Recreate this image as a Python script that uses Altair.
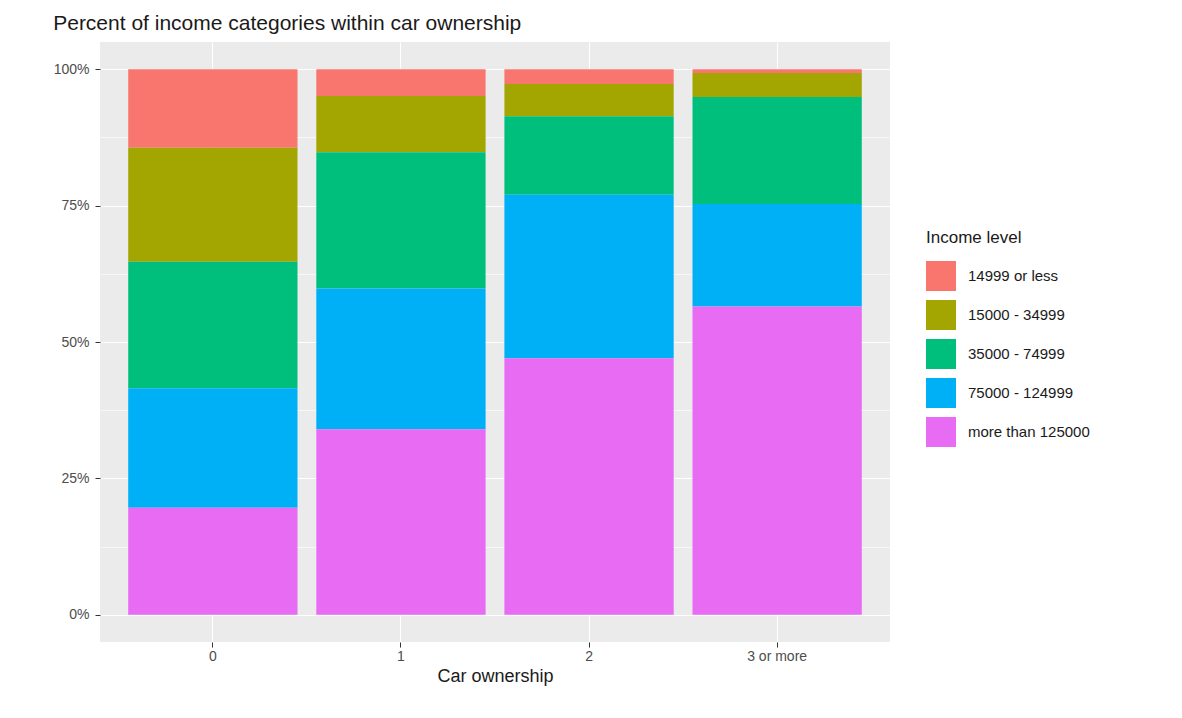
import pandas as pd
import altair as alt

cars = ['0', '1', '2', '3 or more']
levels = ['14999 or less', '15000 - 34999', '35000 - 74999', '75000 - 124999', 'more than 125000']
colors = ['#F8766D', '#A3A500', '#00BF7D', '#00B0F6', '#E76BF3']

# share of each income level per car group
pct = {
    '0':         [14.4, 20.9, 23.2, 21.9, 19.6],
    '1':         [4.9, 10.3, 25.0, 25.8, 34.0],
    '2':         [2.7, 5.9, 14.4, 30.0, 47.0],
    '3 or more': [0.7, 4.4, 19.6, 18.8, 56.5],
}

rows = []
for car in cars:
    for i, lvl in enumerate(levels):
        rows.append({'car': car, 'level': lvl, 'order': i, 'share': pct[car][i] / 100})
df = pd.DataFrame(rows)

chart = alt.Chart(df).mark_bar().encode(
    x=alt.X('car:N', title='Car ownership', sort=cars,
            scale=alt.Scale(paddingInner=0.1, paddingOuter=0.15),
            axis=alt.Axis(labelAngle=0, grid=True)),
    y=alt.Y('sum(share):Q', title=None, stack='normalize',
            scale=alt.Scale(domain=[-0.05, 1.05], nice=False, zero=False),
            axis=alt.Axis(values=[i * 0.125 for i in range(9)], format='%', labelPadding=6,
                          labelExpr="datum.value * 4 % 1 == 0 ? datum.label : ''",
                          tickOpacity={'condition': {'test': 'datum.value * 4 % 1 != 0', 'value': 0}, 'value': 1},
                          gridWidth={'condition': {'test': 'datum.value * 4 % 1 != 0', 'value': 0.6}, 'value': 1.2})),
    color=alt.Color('level:N', title='Income level', sort=levels,
                    scale=alt.Scale(domain=levels, range=colors),
                    legend=alt.Legend(orient='none', legendX=826, legendY=188,
                                      symbolType='square', symbolSize=900, symbolStrokeWidth=0,
                                      labelFontSize=15, titleFontSize=17, labelColor='#1a1a1a',
                                      titleColor='#1a1a1a', titleFontWeight='normal',
                                      labelOffset=12, rowPadding=9, titlePadding=14)),
    order=alt.Order('order:Q', sort='descending'),
).properties(
    width=790, height=600,
    padding={'left': 45, 'top': 5, 'right': 5, 'bottom': 5},
    title=alt.TitleParams('Percent of income categories within car ownership', anchor='start',
                          fontSize=21, fontWeight='normal', color='#1a1a1a', offset=8),
).configure_view(
    fill='#EBEBEB', strokeWidth=0
).configure_axis(
    gridColor='white', domain=False, tickColor='#333333', tickSize=5,
    labelColor='#4d4d4d', labelFontSize=14, titleFontSize=18, titleFontWeight='normal',
    titleColor='#1a1a1a', labelFont='Liberation Sans', titleFont='Liberation Sans'
).configure_legend(
    labelFont='Liberation Sans', titleFont='Liberation Sans'
).configure_title(font='Liberation Sans')

chart.save('out.html', embed_options={'renderer': 'svg', 'actions': False})
